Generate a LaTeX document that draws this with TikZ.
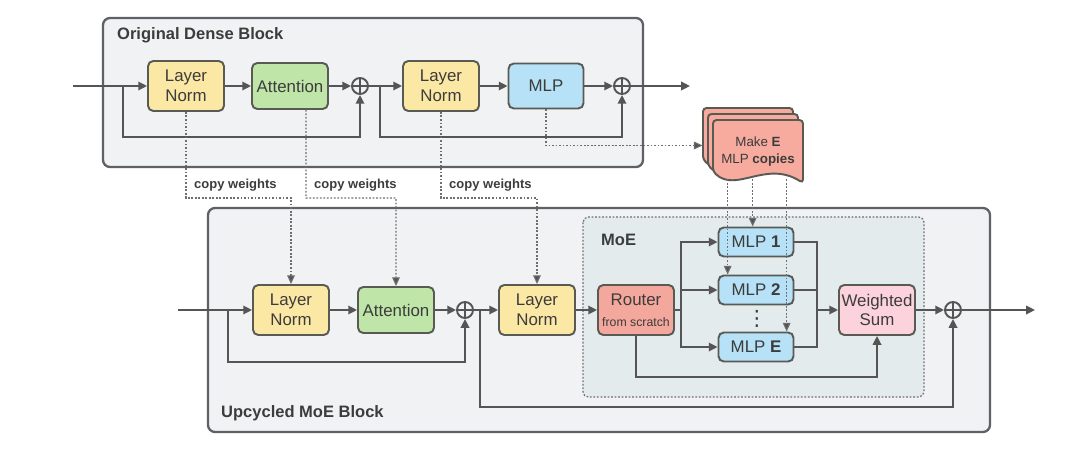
\documentclass[tikz,border=0pt]{standalone}
\usepackage{fontspec}
\setmainfont{Liberation Sans}
\newfontfamily\symfont{DejaVu Sans}
\usetikzlibrary{arrows.meta,calc}

\definecolor{linegray}{HTML}{555555}
\definecolor{boxedge}{HTML}{5A5A55}
\definecolor{textgray}{HTML}{3C3C3C}
\definecolor{dotgray}{HTML}{6E6E6E}
\definecolor{blockfill}{HTML}{F1F2F4}
\definecolor{blockedge}{HTML}{5F6166}
\definecolor{moefill}{HTML}{E4EBED}
\definecolor{lnyellow}{HTML}{FCE8A5}
\definecolor{attgreen}{HTML}{BFE6A8}
\definecolor{mlpblue}{HTML}{B6E1F6}
\definecolor{routerred}{HTML}{F4A89D}
\definecolor{docred}{HTML}{F7AB9F}
\definecolor{sumpink}{HTML}{FCD3DD}

\tikzset{
  box/.style={draw=boxedge, line width=1.1pt, rounded corners=3pt, align=center,
    text=textgray, font=\fontsize{9.6}{11.2}\selectfont, inner sep=0pt},
  lnbox/.style={box, fill=lnyellow, minimum width=1.52cm, minimum height=1cm},
  attbox/.style={box, fill=attgreen, minimum width=1.52cm, minimum height=0.92cm},
  mlpbox/.style={box, fill=mlpblue, minimum width=1.5cm, minimum height=0.9cm},
  expbox/.style={box, fill=mlpblue, minimum width=1.5cm, minimum height=0.58cm},
  routerbox/.style={box, fill=routerred, minimum width=1.52cm, minimum height=1cm},
  sumbox/.style={box, fill=sumpink, minimum width=1.52cm, minimum height=1cm},
  plussym/.style={circle, draw=linegray, line width=1.1pt, fill=blockfill, minimum size=0.32cm, inner sep=0pt,
    path picture={\draw[linegray, line width=1.1pt]
      (path picture bounding box.north) -- (path picture bounding box.south)
      (path picture bounding box.west) -- (path picture bounding box.east);}},
  conn/.style={draw=linegray, line width=1.1pt},
  arr/.style={conn, -{Triangle[length=5pt,width=4.8pt]}},
  copyarr/.style={draw=dotgray, line width=0.6pt, dash pattern=on 1pt off 1pt,
    -{Triangle[length=5pt,width=4.4pt,fill=linegray]}},
  blockframe/.style={draw=blockedge, line width=1.3pt, fill=blockfill, rounded corners=4pt},
  moeframe/.style={draw=dotgray, line width=0.7pt, dash pattern=on 1pt off 1pt, fill=moefill, rounded corners=3pt},
  blocktitle/.style={anchor=west, text=textgray, font=\fontsize{9.4}{11}\selectfont\bfseries},
  cwlabel/.style={anchor=west, text=textgray, font=\fontsize{7.4}{9}\selectfont\bfseries},
  docpage/.style={draw=boxedge, line width=1.1pt, fill=docred, rounded corners=2pt},
}

\begin{document}
\begin{tikzpicture}[x=0.02cm, y=-0.02cm]
\useasboundingbox (0,0) rectangle (1074,456);

% frames
\draw[blockframe] (103,18) rectangle (643,167);
\node[blocktitle] (densetitle) at (111,35) {Original Dense Block};
\draw[blockframe] (208,208) rectangle (990,432);
\node[blocktitle] (uptitle) at (215,413) {Upcycled MoE Block};
\draw[moeframe] (583,217) rectangle (924,397);
\node[blocktitle] (moetitle) at (595,240) {MoE};

% dense block
\coordinate (dinp) at (73,86);
\coordinate (dbr1) at (123,86);
\node[lnbox] (dln1) at (186,86) {Layer\\Norm};
\node[attbox] (datt) at (290,86) {Attention};
\node[plussym] (dp1) at (360,86) {};
\coordinate (dbr2) at (380,86);
\node[lnbox] (dln2) at (441,86) {Layer\\Norm};
\node[mlpbox] (dmlp) at (546,86) {MLP};
\node[plussym] (dp2) at (622,86) {};
\coordinate (dout) at (690,86);
\coordinate (dres1) at (123,137);
\coordinate (dres2) at (380,137);

\draw[arr] (dinp) -- (dln1);
\draw[arr] (dln1) -- (datt);
\draw[arr] (datt) -- (dp1);
\draw[arr] (dp1) -- (dln2);
\draw[arr] (dln2) -- (dmlp);
\draw[arr] (dmlp) -- (dp2);
\draw[arr] (dp2) -- (dout);
\draw[arr] (dbr1) -- (dres1) -| (dp1.south);
\draw[arr] (dbr2) -- (dres2) -| (dp2.south);

% copies of the MLP
\coordinate (docc) at (758,151.5);
\foreach \dx/\dy in {10/12,5/6,0/0}
{
  \draw[docpage] ($(docc)+(-45-\dx,20-\dy)$) -- ($(docc)+(-45-\dx,-31.5-\dy)$)
    -- ($(docc)+(45-\dx,-31.5-\dy)$) -- ($(docc)+(45-\dx,31.5-\dy)$)
    .. controls ($(docc)+(8-\dx,8-\dy)$) and ($(docc)+(-22-\dx,42-\dy)$) .. cycle;
}
\node[align=center, text=textgray, font=\fontsize{7.6}{9.5}\selectfont, minimum width=1.8cm, minimum height=1.26cm]
  (doc) at (docc) {Make \textbf{E}\\MLP \textbf{copies}};

% upcycled block
\coordinate (uinp) at (178,310);
\coordinate (ubr1) at (228,310);
\node[lnbox] (uln1) at (291,310) {Layer\\Norm};
\node[attbox] (uatt) at (396,310) {Attention};
\node[plussym] (up1) at (465,310) {};
\coordinate (ubr2) at (480,310);
\node[lnbox] (uln2) at (537,310) {Layer\\Norm};
\node[routerbox] (router) at (636,310) {Router\\[1pt]{\fontsize{7}{8}\selectfont from scratch}};
\node[expbox] (mlp1) at (756,242) {MLP \textbf{1}};
\node[expbox] (mlp2) at (756,290) {MLP \textbf{2}};
\node[text=textgray, inner sep=0pt, font=\symfont\fontsize{12}{12}\selectfont] (vd) at (757,319) {⋮};
\node[expbox] (mlpE) at (756,347) {MLP \textbf{E}};
\node[sumbox] (wsum) at (877,310) {Weighted\\Sum};
\node[plussym] (up2) at (953,310) {};
\coordinate (uout) at (1035,310);
\coordinate (ures1) at (228,362);
\coordinate (ures2) at (480,407);
\coordinate (fan) at (681,310);
\coordinate (cmb) at (817,310);
\coordinate (gate) at (637,377);

\draw[arr] (uinp) -- (uln1);
\draw[arr] (uln1) -- (uatt);
\draw[arr] (uatt) -- (up1);
\draw[arr] (up1) -- (uln2);
\draw[arr] (uln2) -- (router);
\draw[conn] (router) -- (fan);
\draw[arr] (fan) |- (mlp1.west);
\draw[arr] (fan) |- (mlp2.west);
\draw[arr] (fan) |- (mlpE.west);
\draw[conn] (mlp1.east) -| (cmb);
\draw[conn] (mlp2.east) -| (cmb);
\draw[conn] (mlpE.east) -| (cmb);
\draw[arr] (cmb) -- (wsum);
\draw[arr] (router.south) |- (gate) -| (wsum.south);
\draw[arr] (wsum) -- (up2);
\draw[arr] (up2) -- (uout);
\draw[arr] (ubr1) -- (ures1) -| (up1.south);
\draw[arr] (ubr2) -- (ures2) -| (up2.south);

% weight copies
\coordinate (cw1) at (186,198);
\coordinate (cw2) at (306,198);
\coordinate (cw3) at (441,198);
\draw[copyarr] (dln1.south) -- (cw1) -| (uln1.north);
\draw[copyarr] ([xshift=0.32cm]datt.south) -- (cw2) -| (uatt.north);
\draw[copyarr] (dln2.south) -- (cw3) -| (uln2.north);
\node[cwlabel] (cwl1) at (188,185) {copy weights};
\node[cwlabel] (cwl2) at (308,185) {copy weights};
\node[cwlabel] (cwl3) at (443,185) {copy weights};
\draw[copyarr] (dmlp.south) |- ($(doc.west)+(-10,-6)$);
\draw[copyarr] ($(doc.south west)+(15,-4)$) coordinate (dd1) -- (dd1 |- mlp2.north);
\draw[copyarr] ($(doc.south west)+(40,-4)$) coordinate (dd2) -- (dd2 |- mlp1.north);
\draw[copyarr] ($(doc.south west)+(74,-4)$) coordinate (dd3) -- (dd3 |- mlpE.north);
\end{tikzpicture}
\end{document}
